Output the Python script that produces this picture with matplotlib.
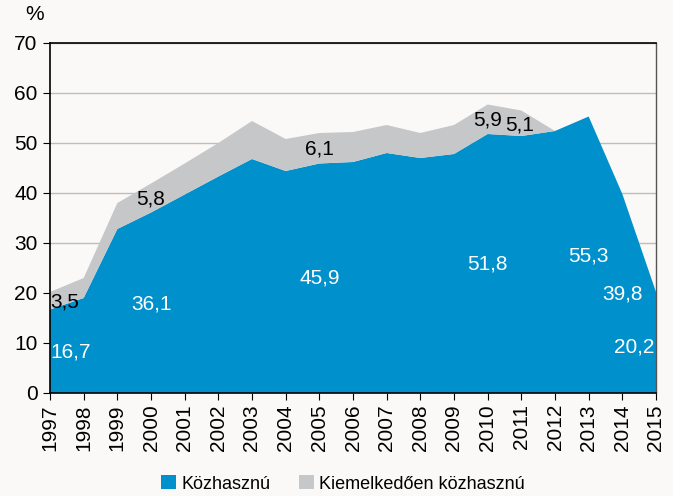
import matplotlib
matplotlib.use("Agg")
import matplotlib.pyplot as plt
from matplotlib.patches import Patch

plt.rcParams["font.family"] = ["Liberation Sans", "DejaVu Sans"]

years = list(range(1997, 2016))
kozhasznu = [16.7, 19.0, 32.8, 36.1, 39.7, 43.3, 46.8, 44.4, 45.9, 46.2,
             48.0, 47.0, 47.8, 51.8, 51.4, 52.4, 55.3, 39.8, 20.2]
kiemelkedo = [3.5, 4.0, 5.2, 5.8, 6.2, 6.7, 7.6, 6.4, 6.1, 6.0,
              5.6, 5.0, 5.8, 5.9, 5.1, 0.0, 0.0, 0.0, 0.0]

# value labels: (x, y, text, colour)
labels_x = [1997.45, 1997.6, 2000.0, 2000.0, 2005.0, 2005.0, 2010.0, 2010.95,
            2010.0, 2013.0, 2014.0, 2014.35]
labels_y = [18.2, 8.2, 17.8, 38.8, 23.0, 48.8, 54.6, 53.6, 25.8, 27.4, 19.8, 9.2]
labels_txt = ["3,5", "16,7", "36,1", "5,8", "45,9", "6,1", "5,9", "5,1",
              "51,8", "55,3", "39,8", "20,2"]
labels_col = ["black", "white", "white", "black", "white", "black", "black", "black",
              "white", "white", "white", "white"]

blue = "#0090CB"
grey = "#C6C7C9"
bg = "#FBF9F7"

fig = plt.figure(figsize=(6.73, 4.96), dpi=100, facecolor=bg)
ax = fig.add_axes([50 / 673, 1 - 393 / 496, 606 / 673, 350 / 496])
ax.set_facecolor(bg)

ax.stackplot(years, kozhasznu, kiemelkedo, colors=[blue, grey], linewidth=0, zorder=2)

ax.set_xlim(1997, 2015)
ax.set_ylim(0, 70)
ax.set_yticks(range(0, 71, 10))
ax.set_xticks(years)
ax.set_xticklabels([str(y) for y in years], rotation=90)
ax.tick_params(axis="both", labelsize=15, direction="out", length=5, color="black")
ax.tick_params(axis="x", pad=3)
ax.tick_params(axis="y", pad=4)
ax.yaxis.grid(True, color="#BDBDBD", linewidth=1, zorder=0)
ax.set_axisbelow(True)
for side in ["left", "bottom", "top"]:
    ax.spines[side].set_color("black")
    ax.spines[side].set_linewidth(1.2)
ax.spines["right"].set_color("#555555")
ax.spines["right"].set_linewidth(1)

for x, y, t, c in zip(labels_x, labels_y, labels_txt, labels_col):
    ax.text(x, y, t, color=c, fontsize=15, ha="center", va="center", zorder=5)

fig.text(35 / 673, 1 - 15 / 496, "%", fontsize=15, ha="center", va="center")

handles = [Patch(facecolor=blue), Patch(facecolor=grey)]
fig.legend(handles, ["Közhasznú", "Kiemelkedően közhasznú"], loc="center",
           bbox_to_anchor=(0.51, 1 - 484 / 496), ncol=2, frameon=False, fontsize=13,
           handlelength=0.8, handleheight=0.8, handletextpad=0.3, columnspacing=1.6)

fig.savefig("out.png", dpi=100, facecolor=bg)
